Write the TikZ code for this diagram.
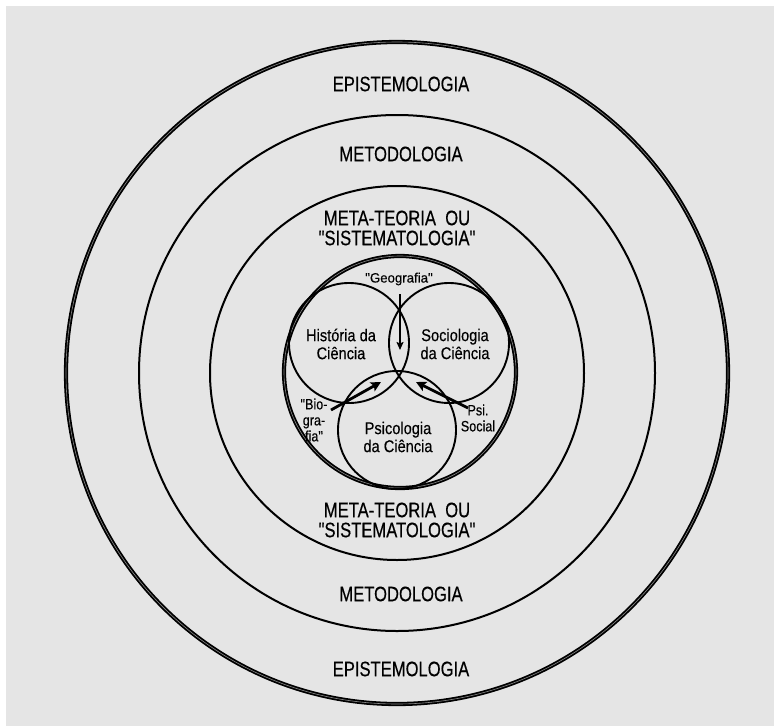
\documentclass[tikz,border=0pt]{standalone}
\usepackage{fontspec}
\setmainfont{Liberation Sans}
\newfontfamily\ringfont{Liberation Sans}[FakeStretch=0.79,FakeBold=0.4]
\newfontfamily\areafont{Liberation Sans}[FakeStretch=0.86,FakeBold=0.35]
\newfontfamily\linkfont{Liberation Sans}[FakeStretch=0.84,FakeBold=0.3]
\newfontfamily\geofont{Liberation Sans}[FakeStretch=0.98,FakeBold=0.3]
\usetikzlibrary{arrows.meta}
\definecolor{panel}{HTML}{E5E5E5}
\tikzset{
  ring/.style={circle, draw, line width=2pt, inner sep=0pt},
  heavyring/.style={circle, draw, line width=1.8pt, double=panel!60!black, double distance=0.6pt, inner sep=0pt},
  area/.style={circle, draw, line width=1.9pt, inner sep=0pt, minimum size=120pt},
  ringlabel/.style={align=center, inner sep=0pt, font=\ringfont\fontsize{21}{20}\selectfont},
  arealabel/.style={align=center, inner sep=0pt, font=\areafont\fontsize{17}{18}\selectfont},
  linklabel/.style={align=center, inner sep=0pt, font=\linkfont\fontsize{15}{16}\selectfont},
  link/.style={line width=2.8pt, -{Stealth[length=10pt,width=10pt,inset=2pt]}},
  thinlink/.style={line width=1.9pt, -{Stealth[length=8pt,width=7pt,inset=1.5pt]}}
}
\begin{document}
\begin{tikzpicture}[x=1pt,y=-1pt]
  \useasboundingbox (0,0) rectangle (774,726);
  \fill[panel] (6,6) rectangle (774,726);

  % concentric rings
  \node[heavyring, minimum size=662pt] (epi) at (397,373) {};
  \node[ring, minimum size=516pt] (met) at (397,373) {};
  \node[ring, minimum size=374pt] (meta) at (397,373) {};
  \node[heavyring, minimum size=232pt] (core) at (400,372) {};

  % ring labels
  \node[ringlabel] (epiT) at (401,84) {EPISTEMOLOGIA};
  \node[ringlabel] (metT) at (401,154) {METODOLOGIA};
  \node[ringlabel] (metaT) at (397,228) {META-TEORIA~ OU\\"SISTEMATOLOGIA"};
  \node[ringlabel] (metaB) at (397,520) {META-TEORIA~ OU\\"SISTEMATOLOGIA"};
  \node[ringlabel] (metB) at (401,594) {METODOLOGIA};
  \node[ringlabel] (epiB) at (401,669) {EPISTEMOLOGIA};

  % the three overlapping fields
  \node[area] (hist) at (349,343) {};
  \node[area] (soc) at (449,343) {};
  \node[area, minimum size=118pt] (psi) at (397,430) {};

  \node[arealabel] (histT) at (341,344) {História da\\Ciência};
  \node[arealabel] (socT) at (455,344) {Sociologia\\da Ciência};
  \node[arealabel] (psiT) at (398,437) {Psicologia\\da Ciência};

  % border fields and their arrows
  \node[inner sep=0pt, font=\geofont\fontsize{13.5}{14}\selectfont] (geo) at (399,279) {"Geografia"};
  \node[linklabel] (bio) at (314,420) {"Bio-\\gra-\\fia"};
  \node[linklabel] (psoc) at (478,418) {Psi.\\Social};

  \coordinate (geoS) at (400,294);
  \coordinate (geoE) at (400,350);
  \coordinate (bioS) at (331,410);
  \coordinate (bioE) at (381,382);
  \coordinate (psocS) at (468,408);
  \coordinate (psocE) at (416,382);

  \draw[thinlink] (geoS) -- (geoE);
  \draw[link] (bioS) -- (bioE);
  \draw[link] (psocS) -- (psocE);
\end{tikzpicture}
\end{document}
